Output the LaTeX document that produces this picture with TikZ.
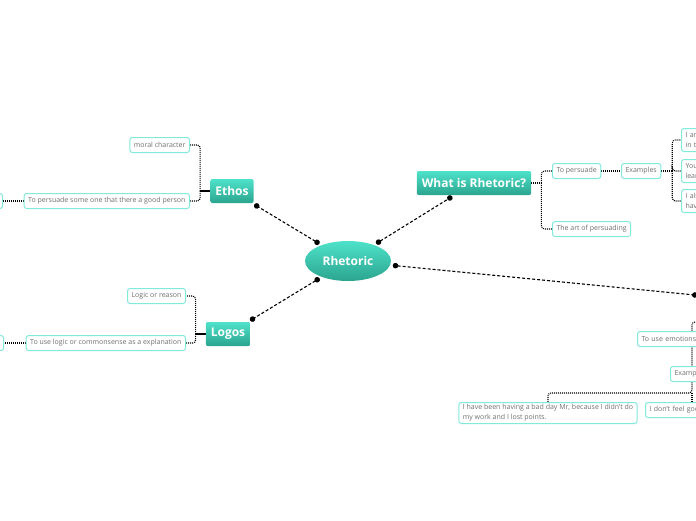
\documentclass[tikz,border=0pt]{standalone}
\usepackage{fontspec}
\setmainfont{Open Sans}
\usetikzlibrary{positioning,shapes.geometric,arrows.meta,backgrounds}
\definecolor{mintedge}{HTML}{80EADB}
\definecolor{tealtop}{HTML}{4EE2CA}
\definecolor{tealbot}{HTML}{2BA48E}
\definecolor{leaftext}{HTML}{707070}

\begin{document}
\begin{tikzpicture}[
    x=1pt, y=-1pt,
    central/.style={ellipse, top color=tealtop, bottom color=tealbot, minimum width=86pt, minimum height=40pt, text=white, font=\bfseries\fontsize{12}{14}\selectfont},
    branch/.style={rectangle, rounded corners=2pt, top color=tealtop, bottom color=tealbot, minimum height=24pt, inner xsep=5pt, text=white, font=\bfseries\fontsize{12}{14}\selectfont},
    leaf/.style={rectangle, draw=mintedge, line width=1pt, rounded corners=2.5pt, fill=white, minimum height=15pt, inner xsep=4pt, inner ysep=2pt, text=leaftext, font=\fontsize{7}{10}\selectfont, align=left},
    mainlink/.style={line width=1.1pt, dash pattern=on 3pt off 2pt, {Circle[length=5.5pt]}-{Circle[length=5.5pt]}, shorten <=2.5pt, shorten >=2.5pt},
    sublink/.style={line width=1.1pt, dash pattern=on 1pt off 1pt, rounded corners=3pt},
    stem/.style={line width=1.1pt}
]
\useasboundingbox (0,0) rectangle (696,520);

% centre and main branches
\node[central] (rhet) at (348,261) {Rhetoric};
\node[branch] (ethos) at (232,191) {Ethos};
\node[branch] (logos) at (228,334) {Logos};
\node[branch] (whatis) at (474,183) {What is Rhetoric?};
\coordinate (pathos) at (700,295.5);

\draw[mainlink] (rhet) -- (ethos);
\draw[mainlink] (rhet) -- (logos);
\draw[mainlink] (rhet) -- (whatis);
\draw[mainlink] (rhet) -- (pathos);

% Ethos
\node[leaf, anchor=east] (moral) at (190,145) {moral character};
\node[leaf, anchor=east] (goodperson) at (190,201) {To persuade some one that there a good person};
\node[leaf, anchor=east, minimum width=40pt] (ethosfar) at (3,201) {};

% Logos
\node[leaf, anchor=east] (reason) at (186,296) {Logic or reason};
\node[leaf, anchor=east] (commonsense) at (186,343) {To use logic or commonsense as a explanation};
\node[leaf, anchor=east, minimum width=40pt] (logosfar) at (4,343) {};

% What is Rhetoric?
\node[leaf, anchor=west] (persuade) at (552,171) {To persuade};
\node[leaf, anchor=west] (examples) at (621,171) {Examples};
\node[leaf, anchor=west] (artof) at (552,229) {The art of persuading};
\node[leaf, anchor=west, text width=40pt, minimum height=23pt] (examplea) at (681,140) {I am\\in the};
\node[leaf, anchor=west, text width=40pt, minimum height=23pt] (exampleb) at (681,171) {You\\learn};
\node[leaf, anchor=west, text width=40pt, minimum height=23pt] (examplec) at (681,201) {I also\\have};

% emotions branch
\node[leaf, anchor=west, text width=70pt] (emotions) at (637,339) {To use emotions};
\node[leaf, anchor=west, text width=40pt] (examp) at (670,374) {Examples};
\node[leaf, anchor=north] (badday) at (548,402) {I have been having a bad day Mr, because I didn't do\\my work and I lost points.};
\node[leaf, anchor=west, text width=60pt] (feelgood) at (645,410) {I don't feel good};
\coordinate (pathoshook) at (705,322);
\coordinate (pathosfork) at (692,393);

\begin{scope}[on background layer]
\draw[stem] (ethos.west) -- ++(-10,0) coordinate (ethosfork);
\draw[sublink] (ethosfork) |- (moral.east);
\draw[sublink] (ethosfork) |- (goodperson.east);
\draw[sublink] (goodperson.west) -- (ethosfar.east);

\draw[stem] (logos.west) -- ++(-10,0) coordinate (logosfork);
\draw[sublink] (logosfork) |- (reason.east);
\draw[sublink] (logosfork) |- (commonsense.east);
\draw[sublink] (commonsense.west) -- (logosfar.east);

\draw[sublink] (whatis.east) -- ++(10,0) coordinate (whatisfork);
\draw[sublink] (whatisfork) |- (persuade.west);
\draw[sublink] (whatisfork) |- (artof.west);
\draw[sublink] (persuade) -- (examples);
\draw[sublink] (examples.east) -- ++(11,0) coordinate (examplesfork);
\draw[sublink] (examplesfork) |- (examplea.west);
\draw[sublink] (examplesfork) |- (exampleb.west);
\draw[sublink] (examplesfork) |- (examplec.west);

\draw[sublink] (pathoshook) -| (pathosfork) -| (badday.north);
\draw[sublink] (pathosfork) -- (feelgood.north -| pathosfork);
\end{scope}

\end{tikzpicture}
\end{document}
